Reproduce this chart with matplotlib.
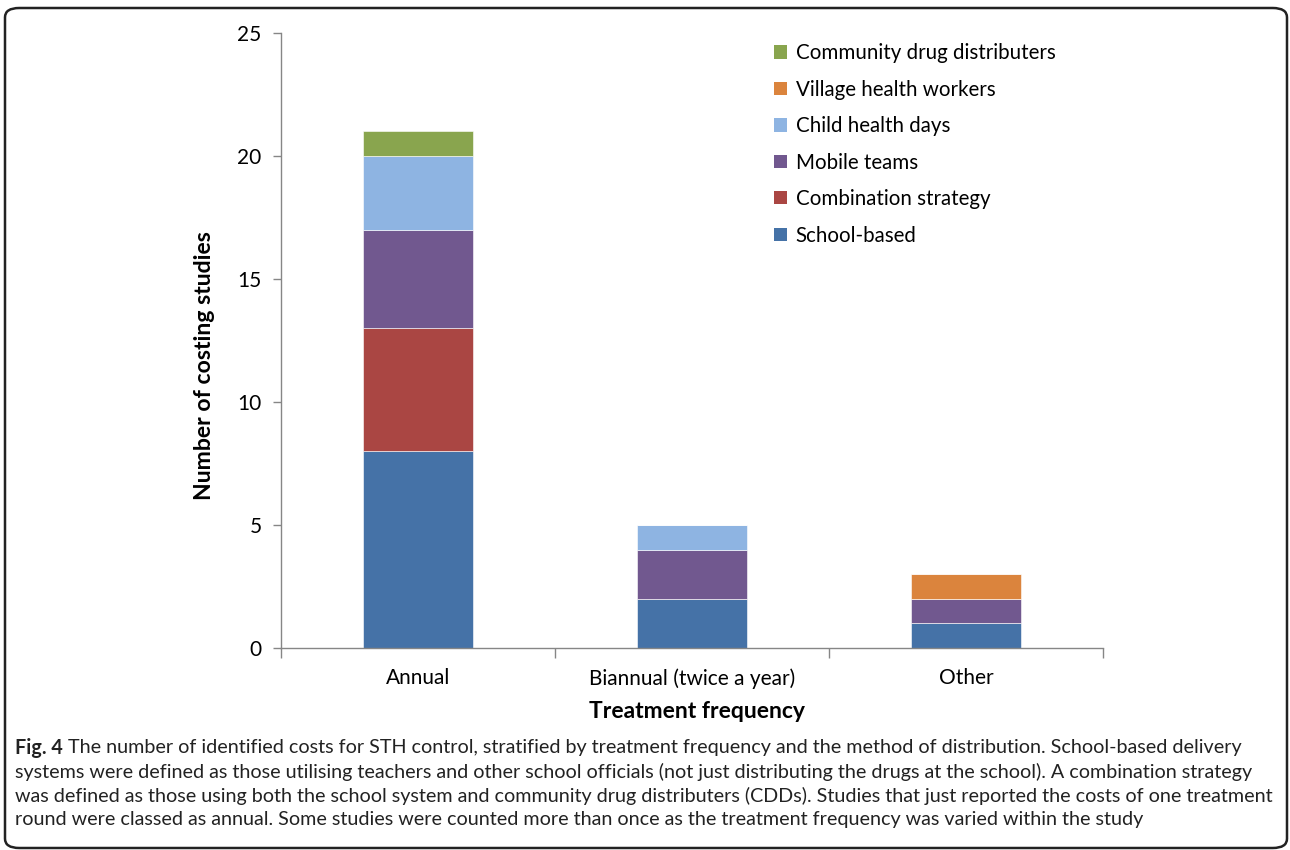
import matplotlib
matplotlib.use("Agg")
import matplotlib.pyplot as plt
from matplotlib.patches import FancyBboxPatch, Patch
import numpy as np

categories = ["Annual", "Biannual (twice a year)", "Other"]
series_names = ["School-based", "Combination strategy", "Mobile teams",
                "Child health days", "Village health workers", "Community drug distributers"]
school_based = [8, 2, 1]
combination = [5, 0, 0]
mobile_teams = [4, 2, 1]
child_health_days = [3, 1, 0]
village_health_workers = [0, 0, 1]
community_drug = [1, 0, 0]
colors = ["#4572A7", "#AA4643", "#71588F", "#8EB4E2", "#DB843D", "#89A54E"]

series = [school_based, combination, mobile_teams, child_health_days,
          village_health_workers, community_drug]

plt.rcParams['font.family'] = ['Lato', 'DejaVu Sans']

fig = plt.figure(figsize=(12.9, 8.5), dpi=100)
ax = fig.add_axes([281/1290, (850-648)/850, (1103-281)/1290, (648-33)/850])

x = np.arange(len(categories))
bottom = np.zeros(len(categories))
for name, vals, c in zip(series_names, series, colors):
    v = np.array(vals, dtype=float)
    ax.bar(x, v, bottom=bottom, width=0.4, color=c, edgecolor="white",
           linewidth=0.4, label=name)
    bottom += v

ax.set_xlim(-0.5, 2.5)
ax.set_ylim(0, 25)
ax.set_yticks([0, 5, 10, 15, 20, 25])
ax.set_xticks(x)
ax.set_xticklabels(categories, fontsize=15)
ax.set_xticks([-0.5, 0.5, 1.5, 2.5], minor=True)
ax.tick_params(axis='x', which='major', length=0, pad=14.5)
ax.tick_params(axis='x', which='minor', length=7, color="#868686", width=1)
ax.tick_params(axis='y', length=6, color="#868686", width=1, labelsize=15, pad=8)
for s in ["top", "right"]:
    ax.spines[s].set_visible(False)
for s in ["left", "bottom"]:
    ax.spines[s].set_color("#868686")
    ax.spines[s].set_linewidth(1)

ax.set_ylabel("Number of costing studies", fontsize=16.6, fontweight="bold", labelpad=16)
ax.yaxis.label.set_y(0.46)
ax.set_xlabel("Treatment frequency", fontsize=16.5, fontweight="bold", labelpad=8.5)
ax.xaxis.label.set_x(0.506)

handles = [Patch(facecolor=c, label=n) for n, c in zip(series_names, colors)][::-1]
leg = ax.legend(handles=handles, loc="upper left", bbox_to_anchor=(0.5875, 1.0),
                frameon=False, fontsize=14.8, handlelength=0.62, handleheight=0.62,
                handletextpad=0.42, labelspacing=0.8, borderaxespad=0.1)

# Border
border = FancyBboxPatch((5/1290, 2/850), 1282/1290, 840/850,
                        boxstyle="round,pad=0,rounding_size=0.011",
                        transform=fig.transFigure, fill=False,
                        edgecolor="#222222", linewidth=1.8)
fig.patches.append(border)

caption_lines = [
    "The number of identified costs for STH control, stratified by treatment frequency and the method of distribution. School-based delivery",
    "systems were defined as those utilising teachers and other school officials (not just distributing the drugs at the school). A combination strategy",
    "was defined as those using both the school system and community drug distributers (CDDs). Studies that just reported the costs of one treatment",
    "round were classed as annual. Some studies were counted more than once as the treatment frequency was varied within the study",
]
ys = [748, 772, 796, 820]
cap_fs = 14.2
t = fig.text(15/1290, 1 - ys[0]/850, "Fig. 4", fontsize=cap_fs, fontweight="bold",
             va="center", ha="left", color="#222222")
fig.canvas.draw()
bb = t.get_window_extent()
fig.text((bb.x1 + 5)/1290, 1 - ys[0]/850, caption_lines[0], fontsize=cap_fs,
         va="center", ha="left", color="#222222")
for line, yy in zip(caption_lines[1:], ys[1:]):
    fig.text(15/1290, 1 - yy/850, line, fontsize=cap_fs, va="center", ha="left",
             color="#222222")

fig.savefig("out.png", dpi=100)
